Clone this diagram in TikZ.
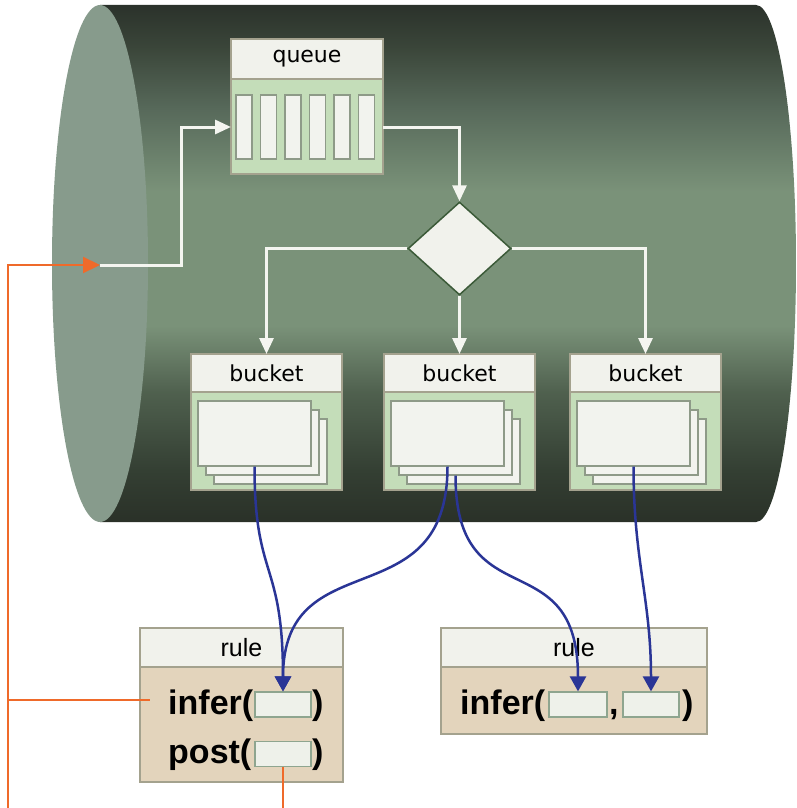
\documentclass[tikz,border=0pt]{standalone}
\usepackage{fontspec}
\setmainfont{Liberation Sans}
\newfontfamily\dvs{DejaVu Sans}
\usetikzlibrary{arrows.meta,shapes.geometric}
\definecolor{cdark}{HTML}{2A3128}
\definecolor{cmid}{HTML}{7C967B}
\definecolor{cface}{HTML}{879B8C}
\definecolor{hdrc}{HTML}{F1F2EC}
\definecolor{bordc}{HTML}{A4A28E}
\definecolor{lgreen}{HTML}{C4DDB9}
\definecolor{cardc}{HTML}{F2F3EE}
\definecolor{cardb}{HTML}{8E9A88}
\definecolor{tanc}{HTML}{E3D4BC}
\definecolor{slotc}{HTML}{EEF1EA}
\definecolor{slotb}{HTML}{8EA58F}
\definecolor{bcol}{HTML}{2A3596}
\definecolor{ocol}{HTML}{EF6A2A}
\definecolor{wcol}{HTML}{F4F5F0}
\definecolor{dgreen}{HTML}{3B5A38}
\definecolor{sA}{HTML}{2A3128}
\definecolor{sB}{HTML}{343F33}
\definecolor{sC}{HTML}{4F604E}
\definecolor{sD}{HTML}{7A9279}
\definecolor{sE}{HTML}{57695A}
\definecolor{sF}{HTML}{3A4539}
\definecolor{sG}{HTML}{2B322B}
\pgfdeclareverticalshading{cylshade}{100bp}{color(0bp)=(sA); color(25bp)=(sA); color(30bp)=(sB); color(37.5bp)=(sC); color(44bp)=(sD); color(57bp)=(sD); color(65bp)=(sE); color(71bp)=(sF); color(75bp)=(sG); color(100bp)=(sG)}
\begin{document}
\begin{tikzpicture}[x=1pt,y=-1pt,
  boxline/.style={draw=bordc, line width=1.3pt, inner sep=0pt, outer sep=0pt, rectangle},
  gbox/.style={boxline, fill=lgreen},
  tbox/.style={boxline, fill=tanc},
  hbox/.style={boxline, fill=hdrc, font=\dvs\fontsize{22}{24}\selectfont},
  rhbox/.style={boxline, fill=hdrc, font=\fontsize{25}{27}\selectfont},
  slotq/.style={draw=cardb, line width=1.2pt, fill=cardc, inner sep=0pt, minimum width=16pt, minimum height=64pt},
  cardbox/.style={draw=cardb, line width=1.3pt, fill=cardc, inner sep=0pt, minimum width=113pt, minimum height=65pt},
  slotbox/.style={draw=slotb, line width=1.2pt, fill=slotc, inner sep=0pt, minimum width=56pt, minimum height=25pt},
  bigtxt/.style={font=\bfseries\fontsize{34}{36}\selectfont, inner sep=0pt, anchor=base west},
  wline/.style={draw=wcol, line width=3pt, -{Triangle[length=16pt,width=14pt]}},
  bline/.style={draw=bcol, line width=2.5pt, -{Triangle[length=15pt,width=16pt]}},
  oline/.style={draw=ocol, line width=2.2pt}
]
\useasboundingbox (0,0) rectangle (796,808);
\fill[white] (0,0) rectangle (796,808);
% cylinder
\shade[shading=cylshade]
  (100,5) -- (756,5) arc[start angle=90, end angle=-90, x radius=40pt, y radius=258.5pt] -- (100,522) -- cycle;
\fill[cface] (100,263.5) ellipse[x radius=48pt, y radius=258.5pt];

% queue
\node[gbox, minimum width=152pt, minimum height=135pt] (q) at (307,106.5) {};
\node[hbox, minimum width=152pt, minimum height=40pt, anchor=north] (qh) at (q.north) {queue};
\foreach \x [count=\k] in {244,268.5,293,317.5,342,366.5}
  \node[slotq] (qs\k) at (\x,127) {};

% diamond
\node[shape=diamond, draw=dgreen, line width=1.5pt, fill=hdrc, minimum width=103pt, minimum height=93pt, inner sep=0pt] (d) at (459.5,248.5) {};

% buckets
\foreach \i/\x in {1/266.5,2/459.5,3/645.5}{
  \node[gbox, minimum width=151pt, minimum height=136pt] (b\i) at (\x,422) {};
  \node[hbox, minimum width=151pt, minimum height=38pt, anchor=north] (bh\i) at (b\i.north) {bucket};
  \node[cardbox] (cc\i) at (\x+4,451.5) {};
  \node[cardbox] (cb\i) at (\x-4,442.5) {};
  \node[cardbox] (ca\i) at (\x-12,433.5) {};
}

% rules
\node[tbox, minimum width=203pt, minimum height=154pt] (r1) at (241.5,705) {};
\node[rhbox, minimum width=203pt, minimum height=39pt, anchor=north] (rh1) at (r1.north) {rule};
\node[tbox, minimum width=266pt, minimum height=106pt] (r2) at (574,681) {};
\node[rhbox, minimum width=266pt, minimum height=39pt, anchor=north] (rh2) at (r2.north) {rule};

\node[bigtxt] (t1) at (168,714) {infer(};
\node[slotbox] (s1) at (283,704.5) {};
\node[bigtxt] (t2) at (312,714) {)};
\node[bigtxt] (t3) at (168,763) {post(};
\node[slotbox] (s3) at (283,754) {};
\node[bigtxt] (t4) at (312,763) {)};

\node[bigtxt] (t5) at (460,714) {infer(};
\node[slotbox, minimum width=58pt] (s2a) at (578,704.5) {};
\node[bigtxt] (t6) at (609,714) {,};
\node[slotbox] (s2b) at (651,704.5) {};
\node[bigtxt] (t7) at (682,714) {)};

% coordinates
\coordinate (inlet) at (100,265);
\coordinate (k1) at (181,265);
\coordinate (obot) at (8,808);
\coordinate (ojoin) at (8,700);
\coordinate (oend) at (150,700);
\coordinate (pbot) at (283,808);

% white connectors
\draw[wline] (inlet) -- (k1) |- ([yshift=-20.5pt]q.west);
\draw[wline] ([yshift=-20.5pt]q.east) -| (d.north);
\draw[wline] (d.west) -| (b1.north);
\draw[wline] (d.south) -- (b2.north);
\draw[wline] (d.east) -| (b3.north);

% orange connectors
\draw[oline, -{Triangle[length=17pt,width=16pt]}] (obot) |- (inlet);
\draw[oline] (ojoin) -- (oend);
\draw[oline] (s3.south) -- (pbot);

% blue connectors
\draw[bline] (ca1.south) .. controls +(0,114) and +(0,-132) .. (s1.north);
\draw[bline] (ca2.south) .. controls +(0,154) and +(0,-152) .. (s1.north);
\draw[bline] (cb2.south) .. controls +(0,145) and +(0,-152) .. (s2a.north);
\draw[bline] (ca3.south) .. controls +(0,94) and +(0,-92) .. (s2b.north);
\end{tikzpicture}
\end{document}
